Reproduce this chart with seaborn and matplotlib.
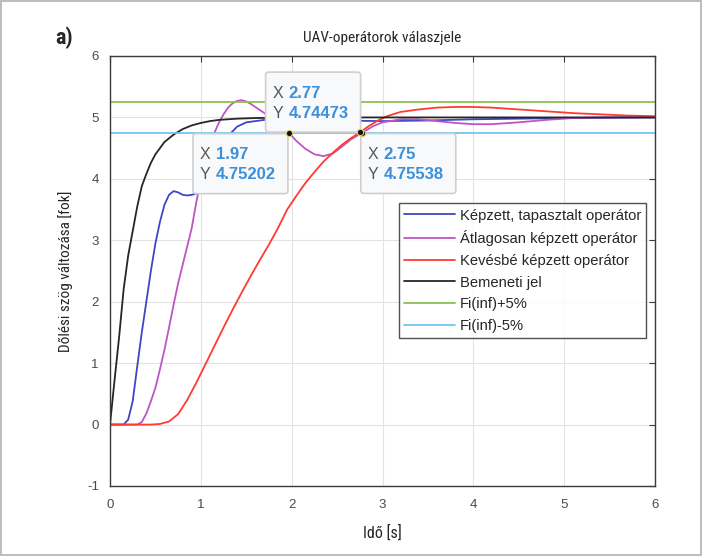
# UAV operator step responses (recreated from a MATLAB figure)
import numpy as np
import pandas as pd
import matplotlib
matplotlib.use("Agg")
import matplotlib.pyplot as plt
import matplotlib.transforms as mtransforms
from matplotlib.patches import FancyBboxPatch
import seaborn as sns

# --- data ---
t_expert = [0, 0.15, 0.2, 0.25, 0.3, 0.35, 0.4, 0.45, 0.5, 0.55, 0.6, 0.65, 0.7, 0.75, 0.8, 0.85,
            0.9, 0.95, 1.0, 1.1, 1.2, 1.3, 1.4, 1.5, 1.7, 2.0, 2.5, 3.0, 3.5, 4.0, 5.0, 6.0]
y_expert = [0, 0, 0.08, 0.38, 0.95, 1.5, 2.0, 2.5, 2.95, 3.3, 3.58, 3.74, 3.8, 3.78, 3.74, 3.73,
            3.74, 3.76, 3.82, 4.1, 4.45, 4.7, 4.85, 4.92, 4.96, 4.96, 4.95, 4.94, 4.95, 4.97, 4.99, 5.0]

t_avg = [0, 0.3, 0.35, 0.4, 0.45, 0.5, 0.55, 0.6, 0.65, 0.7, 0.75, 0.8, 0.85, 0.9, 0.95, 1.0,
         1.05, 1.1, 1.15, 1.2, 1.25, 1.3, 1.35, 1.4, 1.45, 1.5, 1.55, 1.6, 1.7, 1.8, 1.9, 1.97,
         2.05, 2.15, 2.25, 2.35, 2.45, 2.55, 2.65, 2.77, 2.9, 3.0, 3.2, 3.4, 3.6, 3.8, 4.0, 4.2,
         4.5, 4.8, 5.1, 5.5, 6.0]
y_avg = [0, 0, 0.04, 0.18, 0.38, 0.6, 0.9, 1.22, 1.58, 1.95, 2.3, 2.6, 2.9, 3.2, 3.62, 3.98,
         4.28, 4.55, 4.75, 4.92, 5.05, 5.16, 5.23, 5.27, 5.28, 5.26, 5.22, 5.17, 5.07, 4.95, 4.83, 4.752,
         4.62, 4.49, 4.40, 4.37, 4.41, 4.52, 4.64, 4.745, 4.86, 4.92, 4.97, 4.97, 4.94, 4.91, 4.89, 4.89,
         4.92, 4.96, 4.99, 5.0, 5.0]

t_novice = [0, 0.45, 0.55, 0.65, 0.75, 0.85, 0.95, 1.05, 1.15, 1.25, 1.35, 1.45, 1.55, 1.65,
            1.75, 1.85, 1.95, 2.05, 2.15, 2.25, 2.35, 2.45, 2.55, 2.65, 2.75, 2.85, 2.95, 3.05,
            3.2, 3.4, 3.6, 3.8, 4.0, 4.2, 4.5, 4.8, 5.1, 5.4, 5.7, 6.0]
y_novice = [0, 0, 0.01, 0.05, 0.17, 0.4, 0.68, 0.98, 1.28, 1.58, 1.87, 2.15, 2.42, 2.68,
            2.93, 3.2, 3.5, 3.72, 3.93, 4.11, 4.28, 4.42, 4.55, 4.66, 4.755, 4.86, 4.95, 5.02,
            5.09, 5.13, 5.16, 5.17, 5.17, 5.16, 5.13, 5.1, 5.07, 5.05, 5.03, 5.02]

t_input = [0, 0.05, 0.1, 0.15, 0.2, 0.25, 0.3, 0.35, 0.4, 0.45, 0.5, 0.6, 0.7, 0.8, 0.9, 1.0,
           1.1, 1.2, 1.4, 1.6, 2.0, 3.0, 4.0, 6.0]
y_input = [0, 0.72, 1.42, 2.2, 2.75, 3.15, 3.55, 3.88, 4.08, 4.26, 4.4, 4.6, 4.72, 4.81, 4.87, 4.91,
           4.94, 4.96, 4.98, 4.99, 5.0, 5.0, 5.0, 5.0]

t_band = [0, 6]
y_upper = [5.25, 5.25]
y_lower = [4.75, 4.75]

labels = ["Képzett, tapasztalt operátor", "Átlagosan képzett operátor",
          "Kevésbé képzett operátor", "Bemeneti jel", "Fi(inf)+5%", "Fi(inf)-5%"]
colors = ["#3f46c4", "#bf55c2", "#ff3b2f", "#262626", "#8cc152", "#6ec6ef"]

# data tips: x, y, which corner of the box sits at the point
tips_x = [1.97, 2.77, 2.75]
tips_y = [4.75202, 4.74473, 4.75538]
tips_txt = [("1.97", "4.75202"), ("2.77", "4.74473"), ("2.75", "4.75538")]
tips_corner = ["top-right", "bottom-right", "top-left"]

frames = []
for lab, t, y in zip(labels,
                     [t_expert, t_avg, t_novice, t_input, t_band, t_band],
                     [y_expert, y_avg, y_novice, y_input, y_upper, y_lower]):
    frames.append(pd.DataFrame({"t": t, "y": y, "series": lab}))
df = pd.concat(frames, ignore_index=True)

sns.set_style("white")
plt.rcParams["axes.unicode_minus"] = False
narrow = dict(family=["Roboto Condensed", "Roboto", "DejaVu Sans"])

fig = plt.figure(figsize=(7.02, 5.56), dpi=100)
fig.patch.set_edgecolor("#bdbdbd")
fig.patch.set_linewidth(1.5)
ax = fig.add_axes([110 / 702, 1 - 486 / 556, 545 / 702, 430 / 556])

sns.lineplot(data=df, x="t", y="y", hue="series", hue_order=labels,
             palette=dict(zip(labels, colors)), estimator=None, sort=False,
             lw=1.3, ax=ax)

ax.set_xlim(0, 6)
ax.set_ylim(-1, 6)
ax.set_xticks(range(0, 7))
ax.set_yticks(range(-1, 7))
ax.grid(True, color="#e3e3e3", lw=0.8)
ax.set_axisbelow(True)
for s in ax.spines.values():
    s.set_color("#3a3a3a")
    s.set_linewidth(1.0)
ax.tick_params(direction="in", length=4, width=0.8, top=True, right=True,
               colors="#3a3a3a", labelcolor="#4a4a4a", labelsize=9.5)
ax.tick_params(axis="x", pad=9)
ax.tick_params(axis="y", pad=8)
for lbl in ax.get_xticklabels() + ax.get_yticklabels():
    lbl.set_family("Liberation Sans")

ax.set_xlabel("Idő [s]", fontsize=11.5, labelpad=10, **narrow)
ax.set_ylabel("Dőlési szög változása [fok]", fontsize=11, labelpad=10, **narrow)
ax.set_title("UAV-operátorok válaszjele", fontsize=11, pad=10, **narrow)
fig.text(55 / 702, 1 - 38 / 556, "a)", fontsize=16, fontweight="bold", va="center", **narrow)

leg = ax.legend(loc="upper right", bbox_to_anchor=(0.984, 0.657), frameon=True,
                fancybox=False, prop={"family": "Liberation Sans", "size": 10.6},
                handlelength=3.5, handletextpad=0.3, labelspacing=0.52,
                borderpad=0.35, borderaxespad=0)
leg.get_frame().set_edgecolor("#262626")
leg.get_frame().set_linewidth(1.0)
for txt in leg.get_texts():
    txt.set_color("#262626")

# data tip boxes (pixel offsets from the tip point)
box_w, box_h = 95, 60
for x, y, (xs, ys), corner in zip(tips_x, tips_y, tips_txt, tips_corner):
    tr = mtransforms.IdentityTransform() + mtransforms.ScaledTranslation(x, y, ax.transData)
    if corner == "top-right":
        x0, y0 = -box_w - 1, -box_h - 1
    elif corner == "bottom-right":
        x0, y0 = -box_w - 1, 1
    else:
        x0, y0 = 1, -box_h - 1
    box = FancyBboxPatch((x0, y0), box_w, box_h, boxstyle="round,pad=0,rounding_size=3",
                         transform=tr, facecolor="#f8f9fb", edgecolor="#cfcfcf", lw=1.2,
                         zorder=5, clip_on=False)
    ax.add_patch(box)
    for row, val in enumerate([xs, ys]):
        ty = y0 + box_h - 21 - 20 * row
        ax.text(x0 + 7, ty, "XY"[row], transform=tr, color="#555555", fontsize=11.5,
                family="Liberation Sans", va="center", ha="left", zorder=6)
        ax.text(x0 + 23, ty, val, transform=tr, color="#3d8fd9", fontsize=12,
                family="Liberation Sans", fontweight="bold", va="center", ha="left", zorder=6)
    ax.plot([x], [y], "o", ms=4.5, color="#111111", mec="#d8d070", mew=0.8, zorder=7,
            clip_on=False)

plt.savefig("out.png", dpi=100)
